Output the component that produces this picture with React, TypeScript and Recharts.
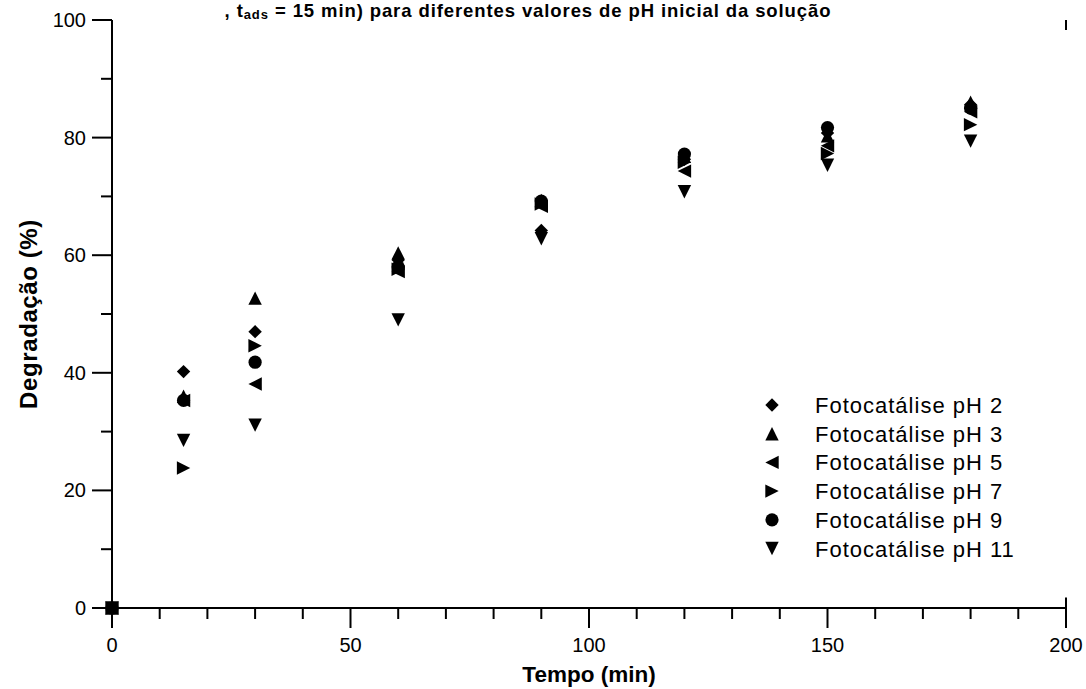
import React from "react";
import {
  ScatterChart,
  Scatter,
  XAxis,
  YAxis,
  ReferenceLine,
  Legend,
} from "recharts";

// Sampling times (min)
const times = [0, 15, 30, 60, 90, 120, 150, 180];

// Degradation (%) for each initial pH
const pH2 = [0, 40.2, 47.0, 59.2, 64.2, 76.3, 80.8, 85.6];
const pH3 = [0, 36.0, 52.7, 60.4, 69.3, 76.8, 80.3, 86.0];
const pH5 = [0, 35.3, 38.1, 57.2, 68.3, 74.3, 78.6, 84.4];
const pH7 = [0, 23.8, 44.6, 57.6, 68.7, 75.8, 77.3, 82.2];
const pH9 = [0, 35.3, 41.8, 58.0, 69.2, 77.2, 81.7, 85.0];
const pH11 = [0, 28.5, 31.1, 49.0, 62.8, 70.8, 75.3, 79.4];

const seriesNames = [
  "Fotocatálise pH 2",
  "Fotocatálise pH 3",
  "Fotocatálise pH 5",
  "Fotocatálise pH 7",
  "Fotocatálise pH 9",
  "Fotocatálise pH 11",
];

const xTicks = [0, 10, 20, 30, 40, 50, 60, 70, 80, 90, 100, 110, 120, 130, 140, 150, 160, 170, 180, 190, 200];
const yTicks = [0, 10, 20, 30, 40, 50, 60, 70, 80, 90, 100];

const FONT = '"Liberation Sans", Arial, sans-serif';
const W = 1086;
const H = 689;

type MarkerKind = "diamond" | "up" | "left" | "right" | "circle" | "down";

const markerPath = (kind: MarkerKind, cx: number, cy: number) => {
  const h = 6.7;
  switch (kind) {
    case "diamond":
      return `M${cx},${cy - h}L${cx + h},${cy}L${cx},${cy + h}L${cx - h},${cy}Z`;
    case "up":
      return `M${cx},${cy - h}L${cx + h},${cy + h}L${cx - h},${cy + h}Z`;
    case "down":
      return `M${cx - h},${cy - h}L${cx + h},${cy - h}L${cx},${cy + h}Z`;
    case "left":
      return `M${cx - h},${cy}L${cx + h},${cy - h}L${cx + h},${cy + h}Z`;
    case "right":
      return `M${cx + h},${cy}L${cx - h},${cy - h}L${cx - h},${cy + h}Z`;
    default:
      return "";
  }
};

const Marker = ({ kind, cx, cy }: { kind: MarkerKind; cx: number; cy: number }) =>
  kind === "circle" ? (
    <circle cx={cx} cy={cy} r={6.6} fill="#000" />
  ) : (
    <path d={markerPath(kind, cx, cy)} fill="#000" />
  );

const kinds: MarkerKind[] = ["diamond", "up", "left", "right", "circle", "down"];
const seriesValues = [pH2, pH3, pH5, pH7, pH9, pH11];

const makeData = (vals: number[]) => times.map((t, i) => ({ t, v: vals[i] }));

const XTick = (props: any) => {
  const { x, y, payload } = props;
  const v = payload.value as number;
  const major = v % 50 === 0;
  return (
    <g>
      <line x1={x} x2={x} y1={y} y2={y + (major ? 20 : 11)} stroke="#000" strokeWidth={2} />
      {major && (
        <text x={x} y={y + 44} textAnchor="middle" fontSize={20} fontFamily={FONT} fill="#000">
          {v}
        </text>
      )}
    </g>
  );
};

const YTick = (props: any) => {
  const { x, y, payload } = props;
  const v = payload.value as number;
  const major = v % 20 === 0;
  return (
    <g>
      <line x1={x} x2={x - (major ? 20 : 11)} y1={y} y2={y} stroke="#000" strokeWidth={2} />
      {major && (
        <text x={x - 26} y={y + 7} textAnchor="end" fontSize={20} fontFamily={FONT} fill="#000">
          {v}
        </text>
      )}
    </g>
  );
};

const LegendBox = () => (
  <svg width={320} height={180} style={{ display: "block" }}>
    {seriesNames.map((name, i) => {
      const cy = 14 + i * 28.7;
      return (
        <g key={name}>
          <Marker kind={kinds[i]} cx={20} cy={cy} />
          <text x={63} y={cy + 8} fontSize={22} letterSpacing={1} fontFamily={FONT} fill="#000">
            {name}
          </text>
        </g>
      );
    })}
  </svg>
);

export default function App() {
  return (
    <div style={{ position: "absolute", left: 0, top: 0, width: W, height: H, background: "#fff" }}>
      <ScatterChart width={W} height={H} margin={{ top: 20, right: 20, bottom: 0, left: 0 }}>
        <XAxis
          dataKey="t"
          type="number"
          domain={[0, 200]}
          ticks={xTicks}
          interval={0}
          height={81}
          tickSize={0}
          tickMargin={0}
          tickLine={false}
          tick={<XTick />}
          axisLine={{ stroke: "#000", strokeWidth: 2 }}
          label={{
            value: "Tempo (min)",
            position: "insideBottom",
            offset: 7,
            fontSize: 22.5,
            fontWeight: "bold",
            fontFamily: FONT,
            fill: "#000",
          }}
        />
        <XAxis
          xAxisId="top"
          orientation="top"
          type="number"
          domain={[0, 200]}
          height={0}
          tick={false}
          tickLine={false}
          axisLine={{ stroke: "#000", strokeWidth: 2 }}
        />
        <YAxis
          dataKey="v"
          type="number"
          domain={[0, 100]}
          ticks={yTicks}
          interval={0}
          width={112}
          tickSize={0}
          tickMargin={0}
          tickLine={false}
          tick={<YTick />}
          axisLine={{ stroke: "#000", strokeWidth: 2 }}
          label={{
            value: "Degradação (%)",
            angle: -90,
            position: "insideLeft",
            offset: 28,
            fontSize: 24,
            fontWeight: "bold",
            fontFamily: FONT,
            fill: "#000",
            letterSpacing: 0.6,
            style: { textAnchor: "middle" },
          }}
        />
        <ReferenceLine
          segment={[
            { x: 200, y: 100 },
            { x: 200, y: 98.3 },
          ]}
          stroke="#000"
          strokeWidth={2}
        />
        <ReferenceLine
          segment={[
            { x: 200, y: 0 },
            { x: 200, y: 1.8 },
          ]}
          stroke="#000"
          strokeWidth={2}
        />
        {seriesValues.map((vals, i) => (
          <Scatter
            key={seriesNames[i]}
            name={seriesNames[i]}
            data={makeData(vals)}
            isAnimationActive={false}
            shape={(p: any) => <Marker kind={kinds[i]} cx={p.cx} cy={p.cy} />}
          />
        ))}
        <Legend
          layout="vertical"
          align="center"
          verticalAlign="middle"
          content={() => <LegendBox />}
          wrapperStyle={{ position: "absolute", left: 752, top: 391, width: 320, height: 180 }}
        />
      </ScatterChart>
      <svg
        width={W}
        height={30}
        style={{ position: "absolute", left: 0, top: 0, pointerEvents: "none" }}
      >
        <text
          x={528}
          y={17}
          textAnchor="middle"
          fontSize={18.5}
          letterSpacing={0.9}
          fontWeight="bold"
          fontFamily={FONT}
          fill="#000"
        >
          , t
          <tspan fontSize={13} dy={2}>ads</tspan>
          <tspan dy={-2}> = 15 min) para diferentes valores de pH inicial da solução</tspan>
        </text>
      </svg>
    </div>
  );
}
